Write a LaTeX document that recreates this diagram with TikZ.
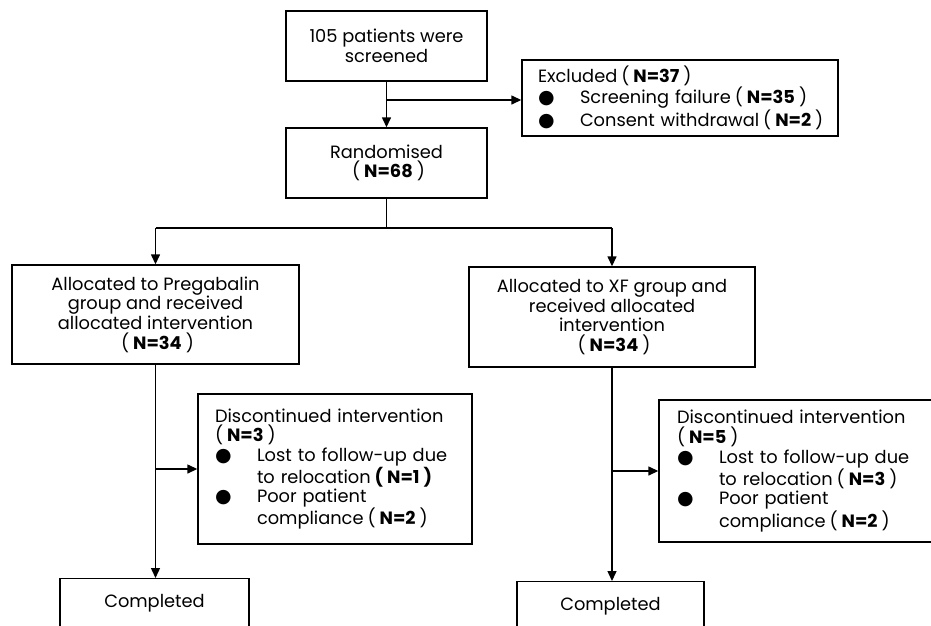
\documentclass[tikz,border=0pt]{standalone}
\usepackage{fontspec}
\setmainfont{Poppins}
\newfontfamily\dejavu{DejaVu Sans}
\usetikzlibrary{arrows.meta,calc}
\newcommand{\lp}{\hspace{4pt}(\hspace{4pt}}
\newcommand{\rp}{\hspace{4pt})}
\newcommand{\blp}{\hspace{4pt}\textbf{(}\hspace{4pt}}
\newcommand{\brp}{\hspace{4pt}\textbf{)}}
\newcommand{\bul}{\makebox[42pt][l]{\dejavu\fontsize{19}{19.6}\selectfont ●}}
\newcommand{\ind}{\hspace*{42pt}}
\begin{document}
\begin{tikzpicture}[x=1pt,y=-1pt,
  box/.style={draw, line width=1.4pt, inner sep=0pt, align=center,
    font=\fontsize{17.8}{19.6}\selectfont},
  listbox/.style={box, align=left},
  conn/.style={line width=1.4pt},
  arr/.style={conn, -{Triangle[length=10pt,width=9pt]}}]
\useasboundingbox (0,0) rectangle (931,625);
\clip (0,0) rectangle (931,625);
\fill[white] (0,0) rectangle (931,625);

\node[box, minimum width=201pt, minimum height=70pt] (scr) at (386.5,46)
  {105 patients were\\screened};
\node[box, minimum width=201pt, minimum height=70pt] (rand) at (386.5,163)
  {Randomised\\\lp\textbf{N=68}\rp};
\node[listbox, inner xsep=16pt, text width=284pt, minimum height=76pt] (excl) at (680,98)
  {\mbox{Excluded\lp\textbf{N=37}\rp}\\
   \mbox{\bul Screening failure\lp\textbf{N=35}\rp}\\
   \mbox{\bul Consent withdrawal\lp\textbf{N=2}\rp}};
\node[box, minimum width=287pt, minimum height=99pt] (allocL) at (155.5,314.5)
  {Allocated to Pregabalin\\group and received\\allocated intervention\\\lp\textbf{N=34}\rp};
\node[box, minimum width=286pt, minimum height=100pt] (allocR) at (612,317)
  {Allocated to XF group and\\received allocated\\intervention\\\lp\textbf{N=34}\rp};
\node[listbox, inner xsep=17pt, text width=240pt, minimum height=150pt] (discL) at (335,469)
  {\mbox{Discontinued intervention}\\
   \mbox{(\hspace{4pt}\textbf{N=3}\rp}\\
   \mbox{\bul Lost to follow-up due}\\
   \mbox{\ind to relocation\blp\textbf{N=1}\brp}\\
   \mbox{\bul Poor patient}\\
   \mbox{\ind compliance\lp\textbf{N=2}\rp}};
\node[listbox, inner xsep=18pt, text width=264pt, minimum height=142pt] (discR) at (809,471)
  {\mbox{Discontinued intervention}\\
   \mbox{(\hspace{4pt}\textbf{N=5}\rp}\\
   \mbox{\bul Lost to follow-up due}\\
   \mbox{\ind to relocation\lp\textbf{N=3}\rp}\\
   \mbox{\bul Poor patient}\\
   \mbox{\ind compliance\lp\textbf{N=2}\rp}};
\node[box, anchor=north, minimum width=189pt, inner ysep=17pt, text height=12pt, text depth=40pt] (compL) at (154.5,578)
  {Completed};
\node[box, anchor=north, minimum width=187pt, inner ysep=17pt, text height=12pt, text depth=40pt] (compR) at (610.5,581)
  {Completed};

\coordinate (b1) at (386.5,100);
\coordinate (s1) at (386.5,228);
\coordinate (sL) at (155.5,228);
\coordinate (sR) at (612,228);
\coordinate (b2) at (155.5,469);
\coordinate (b3) at (612,471);

\draw[arr] (scr.south) -- (rand.north);
\draw[arr] (b1) -- (b1 -| excl.west);
\draw[conn] (rand.south) -- (s1);
\draw[conn] (sL) -- (sR);
\draw[arr] (sL) -- (allocL.north);
\draw[arr] (sR) -- (allocR.north);
\draw[arr] (allocL.south) -- (allocL.south |- compL.north);
\draw[arr] (b2) -- (b2 -| discL.west);
\draw[arr] (allocR.south) -- (allocR.south |- compR.north);
\draw[arr] (b3) -- (b3 -| discR.west);
\end{tikzpicture}
\end{document}
